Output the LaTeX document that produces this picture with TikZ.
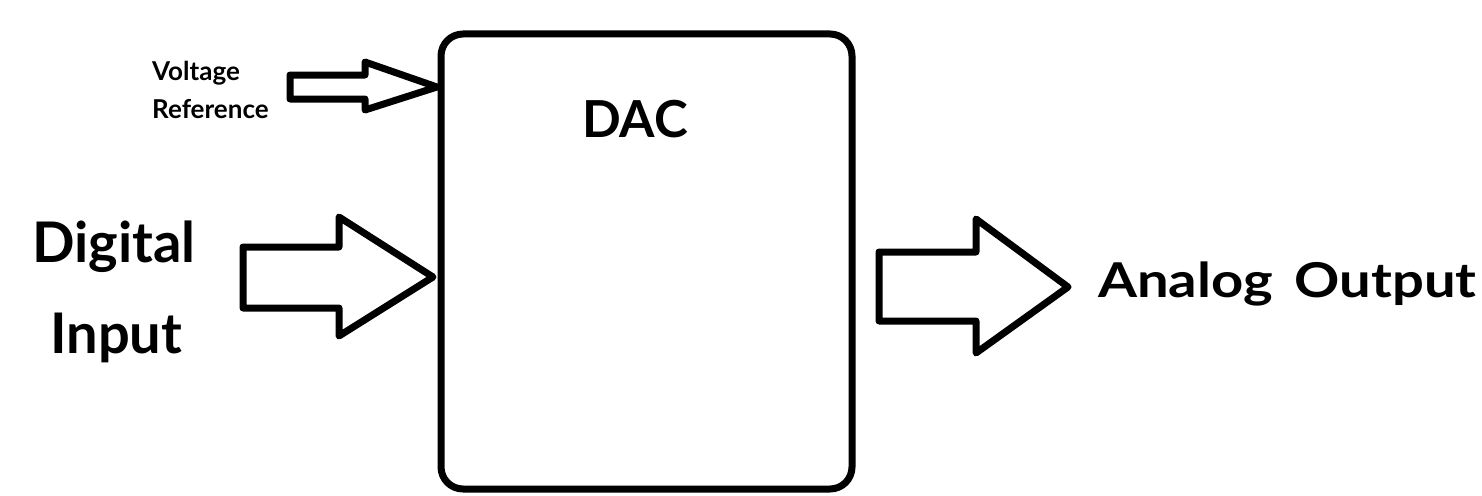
\documentclass[tikz,border=0pt]{standalone}
\usepackage{fontspec}
\setmainfont{Lato}
\newfontfamily\widelato{Lato}[FakeStretch=1.17]
\begin{document}
\begin{tikzpicture}[x=1pt,y=-1pt,
  outline/.style={draw=black,line width=7pt,line join=round,fill=white},
  lbl/.style={inner sep=0pt,anchor=base west,font=\bfseries},
]
\useasboundingbox[fill=white] (0,0) rectangle (1482,495);
% DAC block
\node[outline,rounded corners=22pt,minimum width=411pt,minimum height=455pt,inner sep=0pt,outer sep=0pt,anchor=north west] (dac) at (441,34) {};
\node[inner sep=0pt,anchor=base,font=\bfseries\fontsize{51}{51}\selectfont] (daclabel) at (635,137) {DAC};
% Voltage reference arrow
\coordinate (vtip) at (437,87);
\draw[outline] (290,75) -- (365,75) -- (365,62) -- (vtip) -- (365,110) -- (365,99) -- (290,99) -- cycle;
\node[lbl,font=\bfseries\fontsize{26}{26}\selectfont] (volt) at (152,80) {Voltage};
\node[lbl,font=\bfseries\fontsize{26}{26}\selectfont] (ref) at (152,118) {Reference};
% Digital input arrow
\coordinate (dtip) at (433,277);
\draw[outline] (243,247) -- (339,247) -- (339,217) -- (dtip) -- (339,336) -- (339,308) -- (243,308) -- cycle;
\node[lbl,font=\bfseries\fontsize{56}{56}\selectfont] (dig) at (32,262) {Digital};
\node[lbl,font=\bfseries\fontsize{56}{56}\selectfont] (inp) at (50,353) {Input};
% Analog output arrow
\coordinate (otip) at (1068,287);
\draw[outline] (879,252) -- (976,252) -- (976,219) -- (otip) -- (976,353) -- (976,321) -- (879,321) -- cycle;
\node[lbl,font=\widelato\bfseries\fontsize{48}{48}\selectfont] (aout) at (1098,297) {Analog\hspace*{0.45em}Output};
\end{tikzpicture}
\end{document}
